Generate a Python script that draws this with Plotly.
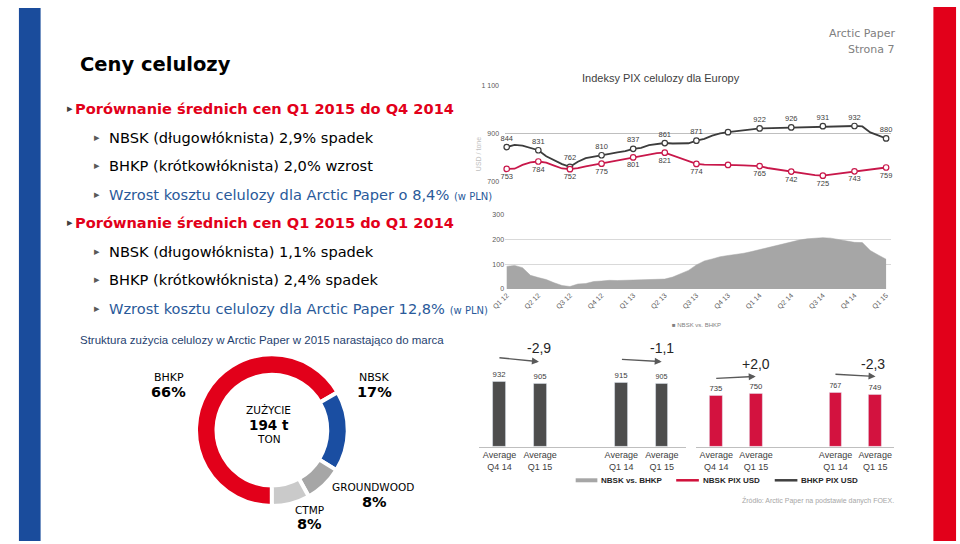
import plotly.graph_objects as go

W, H = 960, 544


def px(x):
    return x / W


def py(y):
    return 1 - y / H


# ---------------- data ----------------
quarters = ["Q1 12", "Q2 12", "Q3 12", "Q4 12", "Q1 13", "Q2 13", "Q3 13",
            "Q4 13", "Q1 14", "Q2 14", "Q3 14", "Q4 14", "Q1 15"]

# PIX Europe, USD / tonne, read at quarter-of-a-quarter steps
nbsk_pix = [844, 853, 850, 840,
            831, 806, 789, 773,
            762, 783, 798, 805,
            810, 816, 822, 827,
            837, 841, 852, 856,
            861, 859, 859, 860,
            871, 878, 892, 901,
            906, 911, 915, 918,
            922, 923, 923, 925,
            926, 927, 928, 930,
            931, 932, 932, 932,
            932, 930, 905, 893,
            880]
bhkp_pix = [753, 754, 770, 780,
            784, 779, 767, 755,
            752, 756, 764, 770,
            775, 781, 788, 794,
            801, 808, 814, 819,
            821, 810, 797, 785,
            774, 771, 771, 772,
            770, 769, 768, 767,
            765, 757, 752, 747,
            742, 735, 730, 727,
            725, 729, 734, 739,
            743, 747, 751, 755,
            759]
spread = [91, 95, 86, 55,
          46, 38, 25, 14,
          10, 20, 22, 30,
          32, 35, 34, 36,
          35, 37, 38, 39,
          40, 48, 62, 75,
          97, 113, 121, 130,
          135, 139, 144, 151,
          159, 165, 173, 181,
          188, 197, 202, 205,
          207, 205, 199, 193,
          188, 187, 155, 137,
          120]
unlabeled_quarter = "Q4 13"

bar_labels = ["Average<br>Q4 14", "Average<br>Q1 15", "Average<br>Q1 14", "Average<br>Q1 15"]
nbsk_avg = [932, 905, 915, 905]
bhkp_avg = [735, 750, 767, 749]
nbsk_change = ["-2,9", "-1,1"]
bhkp_change = ["+2,0", "-2,3"]

donut_labels = ["BHKP", "NBSK", "GROUNDWOOD", "CTMP"]
donut_values = [66, 17, 8, 8]
donut_pct = ["66%", "17%", "8%", "8%"]

# ---------------- styles ----------------
DARK = "#404040"
LINE_RED = "#c8174a"
BAR_RED = "#d3123f"
BAR_GRAY = "#4d4d4d"
SLIDE_RED = "#e2001a"
SLIDE_BLUE = "#1a4c9c"
TEXT_BLUE = "#2a5a9a"
SLIDE_FONT = "DejaVu Sans"
CHART_FONT = "Liberation Sans"

steps = len(nbsk_pix)
t = [i / 4 for i in range(steps)]
tq = t[::4]

fig = go.Figure()

# line chart
fig.add_trace(go.Scatter(x=t, y=nbsk_pix, mode="lines", line=dict(color="#3c3c3c", width=1.8),
                         xaxis="x", yaxis="y", hoverinfo="skip"))
fig.add_trace(go.Scatter(x=t, y=bhkp_pix, mode="lines", line=dict(color=LINE_RED, width=1.8),
                         xaxis="x", yaxis="y", hoverinfo="skip"))
nq = nbsk_pix[::4]
bq = bhkp_pix[::4]
fig.add_trace(go.Scatter(
    x=tq, y=nq, mode="markers+text",
    text=["" if q == unlabeled_quarter else str(v) for q, v in zip(quarters, nq)],
    textposition="top center", textfont=dict(size=7.5, color=DARK, family=CHART_FONT),
    marker=dict(size=5.5, color="white", line=dict(color="#3c3c3c", width=1.2)),
    cliponaxis=False, xaxis="x", yaxis="y"))
fig.add_trace(go.Scatter(
    x=tq, y=bq, mode="markers+text",
    text=["" if q == unlabeled_quarter else str(v) for q, v in zip(quarters, bq)],
    textposition="bottom center", textfont=dict(size=7.5, color=DARK, family=CHART_FONT),
    marker=dict(size=5.5, color="white", line=dict(color=LINE_RED, width=1.2)),
    cliponaxis=False, xaxis="x", yaxis="y"))

# area chart
fig.add_trace(go.Scatter(x=t, y=spread, mode="lines", fill="tozeroy",
                         line=dict(color="#a6a6a6", width=0.5), fillcolor="#a6a6a6",
                         xaxis="x2", yaxis="y2", hoverinfo="skip"))

# bar charts
slots = [0, 1, 3, 4]
fig.add_trace(go.Bar(x=slots, y=nbsk_avg, width=0.32, marker_color=BAR_GRAY,
                     text=[str(v) for v in nbsk_avg], textposition="outside",
                     textfont=dict(size=9, color=DARK, family=CHART_FONT), cliponaxis=False,
                     xaxis="x3", yaxis="y3"))
fig.add_trace(go.Bar(x=slots, y=bhkp_avg, width=0.32, marker_color=BAR_RED,
                     text=[str(v) for v in bhkp_avg], textposition="outside",
                     textfont=dict(size=9, color=DARK, family=CHART_FONT), cliponaxis=False,
                     xaxis="x4", yaxis="y4"))

# donut
cx, cy, r = 261.7, 431.7, 77
fig.add_trace(go.Pie(values=donut_values, labels=donut_labels, hole=0.73, sort=False,
                     direction="clockwise", rotation=180,
                     marker=dict(colors=[SLIDE_RED, "#1a4ea2", "#a6a6a6", "#cacaca"],
                                 line=dict(color="white", width=4)),
                     textinfo="none", hoverinfo="label+value",
                     domain=dict(x=[px(cx - r), px(cx + r)], y=[py(cy + r), py(cy - r)])))

ann = []


def text(x, y, s, size, color, family=SLIDE_FONT, xanchor="left", bold=False, angle=0):
    if bold:
        s = "<b>" + s + "</b>"
    ann.append(dict(x=px(x), y=py(y), xref="paper", yref="paper", text=s, showarrow=False,
                    xanchor=xanchor, yanchor="middle", textangle=angle,
                    font=dict(size=size, color=color, family=family)))


# slide texts
text(65, 61, "Ceny celulozy", 19.5, "#000000", bold=True)
text(896, 30, "Arctic Paper", 11, "#808080", xanchor="right")
text(896, 46, "Strona 7", 11, "#808080", xanchor="right")

heads = [(106, "Porównanie średnich cen Q1 2015 do Q4 2014"),
         (221.7, "Porównanie średnich cen Q1 2015 do Q1 2014")]
for y, s in heads:
    text(52, y, "▸", 11, DARK)
    text(60, y, s, 14.6, SLIDE_RED, bold=True)

subs = [(135, "NBSK (długowłóknista) 2,9% spadek", "#000000"),
        (164, "BHKP (krótkowłóknista) 2,0% wzrost", "#000000"),
        (192.7, "Wzrost kosztu celulozy dla Arctic Paper o 8,4% <span style='font-size:10px'>(w PLN)</span>", TEXT_BLUE),
        (250.7, "NBSK (długowłóknista) 1,1% spadek", "#000000"),
        (279.3, "BHKP (krótkowłóknista) 2,4% spadek", "#000000"),
        (308.3, "Wzrost kosztu celulozy dla Arctic Paper 12,8% <span style='font-size:10px'>(w PLN)</span>", TEXT_BLUE)]
for y, s, c in subs:
    text(79, y, "▸", 11, "#595959")
    text(94, y, s, 14.6, c)

text(65, 340, "Struktura zużycia celulozy w Arctic Paper w 2015 narastająco do marca", 11.5,
     "#1f3f6f", family=CHART_FONT)

# line / area chart texts
text(656.7, 75, "Indeksy PIX celulozy dla Europy", 11, DARK, family=CHART_FONT, xanchor="center")
text(471, 152, "USD / tone", 7, "#c0c0c0", family=CHART_FONT, xanchor="center", angle=-90)
text(693, 325, "■ NBSK vs. BHKP", 6, "#808080", family=CHART_FONT, xanchor="center")

# donut texts
text(157.5, 378.3, "BHKP", 11, "#000000", xanchor="center")
text(157, 393.3, donut_pct[0], 14.5, "#000000", xanchor="center", bold=True)
text(366, 378.3, "NBSK", 11, "#000000", xanchor="center")
text(366, 393.3, donut_pct[1], 14.5, "#000000", xanchor="center", bold=True)
text(364, 489.3, "GROUNDWOOD", 10.5, "#000000", xanchor="center")
text(366, 504, donut_pct[2], 14.5, "#000000", xanchor="center", bold=True)
text(300, 512.7, "CTMP", 10.5, "#000000", xanchor="center")
text(300, 527, donut_pct[3], 14.5, "#000000", xanchor="center", bold=True)
text(258.5, 411.7, "ZUŻYCIE", 10.5, "#000000", xanchor="center")
text(258.5, 426.7, "194 t", 13.5, "#000000", xanchor="center", bold=True)
text(258.5, 440.5, "TON", 10.5, "#000000", xanchor="center")

# change labels and arrows
for (x, y), s in zip([(533, 348), (657.7, 348)], nbsk_change):
    text(x, y, s, 14, "#262626", family=CHART_FONT, xanchor="center")
for (x, y), s in zip([(752.5, 364.3), (872, 364.3)], bhkp_change):
    text(x, y, s, 14, "#262626", family=CHART_FONT, xanchor="center")
arrows = [((491.7, 358.3), (532.7, 362.3)), ((616, 360), (657.3, 362.3)),
          ((711.7, 379.3), (752.7, 377.3)), ((832.7, 375), (874.3, 377.3))]
for (x0, y0), (x1, y1) in arrows:
    ann.append(dict(x=px(x1), y=py(y1), xref="paper", yref="paper", text="", showarrow=True,
                    axref="pixel", ayref="pixel", ax=x0 - x1, ay=y0 - y1,
                    arrowhead=2, arrowsize=1, arrowwidth=1.4, arrowcolor="#595959", standoff=0))

# bar legend
shapes = []
legend_items = [(570, 592, "#a6a6a6", 4, "NBSK vs. BHKP"),
                (672, 695, "#d0103a", 2.5, "NBSK PIX USD"),
                (772, 795, "#404040", 2.5, "BHKP PIX USD")]
for x0, x1, c, w, s in legend_items:
    shapes.append(dict(type="line", xref="paper", yref="paper", x0=px(x0), x1=px(x1),
                       y0=py(482.5), y1=py(482.5), line=dict(color=c, width=w)))
    text(x1 + 2, 482.5, s, 8, "#262626", family=CHART_FONT, bold=True)

text(895, 502.7, "Źródło: Arctic Paper na podstawie danych FOEX.", 7, "#a6a6a6",
     family=CHART_FONT, xanchor="right")

# side bars
shapes.append(dict(type="rect", xref="paper", yref="paper", x0=px(5), x1=px(27), y0=0, y1=py(4),
                   fillcolor=SLIDE_BLUE, line=dict(width=0), layer="below"))
shapes.append(dict(type="rect", xref="paper", yref="paper", x0=px(933), x1=px(956), y0=0, y1=py(3),
                   fillcolor=SLIDE_RED, line=dict(width=0), layer="below"))

xr = [-0.053, 12.156]
tick_font = dict(size=7, color="#595959", family=CHART_FONT)
fig.update_layout(
    width=W, height=H, margin=dict(l=0, r=0, t=0, b=0),
    paper_bgcolor="white", plot_bgcolor="rgba(0,0,0,0)",
    showlegend=False, bargap=0,
    annotations=ann, shapes=shapes,
    xaxis=dict(domain=[px(498.3), px(890)], range=xr, visible=False, anchor="y"),
    yaxis=dict(domain=[py(180), py(82.7)], range=[700, 1100], tickvals=[700, 900, 1100],
               ticktext=["700", "900", "1 100"], gridcolor="#bfbfbf", gridwidth=1,
               zeroline=False, showline=False, ticks="", tickfont=tick_font,
               ticklabelstandoff=5, anchor="x"),
    xaxis2=dict(domain=[px(498.3), px(890)], range=xr, tickvals=tq, ticktext=quarters,
                tickangle=-45, tickfont=tick_font, showgrid=False, zeroline=False,
                showline=False, ticks="", anchor="y2"),
    yaxis2=dict(domain=[py(288.7), py(213.3)], range=[0, 300], tickvals=[0, 100, 200, 300],
                gridcolor="#d9d9d9", zeroline=False, showline=False, ticks="",
                tickfont=tick_font, anchor="x2"),
    xaxis3=dict(domain=[px(471.7), px(681.7)], range=[-0.51, 4.59], tickvals=slots,
                ticktext=bar_labels, showline=True, linecolor="#bfbfbf", linewidth=1,
                showgrid=False, zeroline=False, ticks="",
                tickfont=dict(size=9, color=DARK, family=CHART_FONT), anchor="y3"),
    yaxis3=dict(domain=[py(448.3), py(377.5)], range=[0, 1000], visible=False, anchor="x3"),
    xaxis4=dict(domain=[px(691.7), px(893.3)], range=[-0.52, 4.48], tickvals=slots,
                ticktext=bar_labels, showline=True, linecolor="#bfbfbf", linewidth=1,
                showgrid=False, zeroline=False, ticks="",
                tickfont=dict(size=9, color=DARK, family=CHART_FONT), anchor="y4"),
    yaxis4=dict(domain=[py(448.3), py(377.5)], range=[0, 1000], visible=False, anchor="x4"),
)

post = "document.body.style.margin='0';document.body.style.overflow='hidden';"
fig.write_html("out.html", config={"displayModeBar": False}, post_script=post)
